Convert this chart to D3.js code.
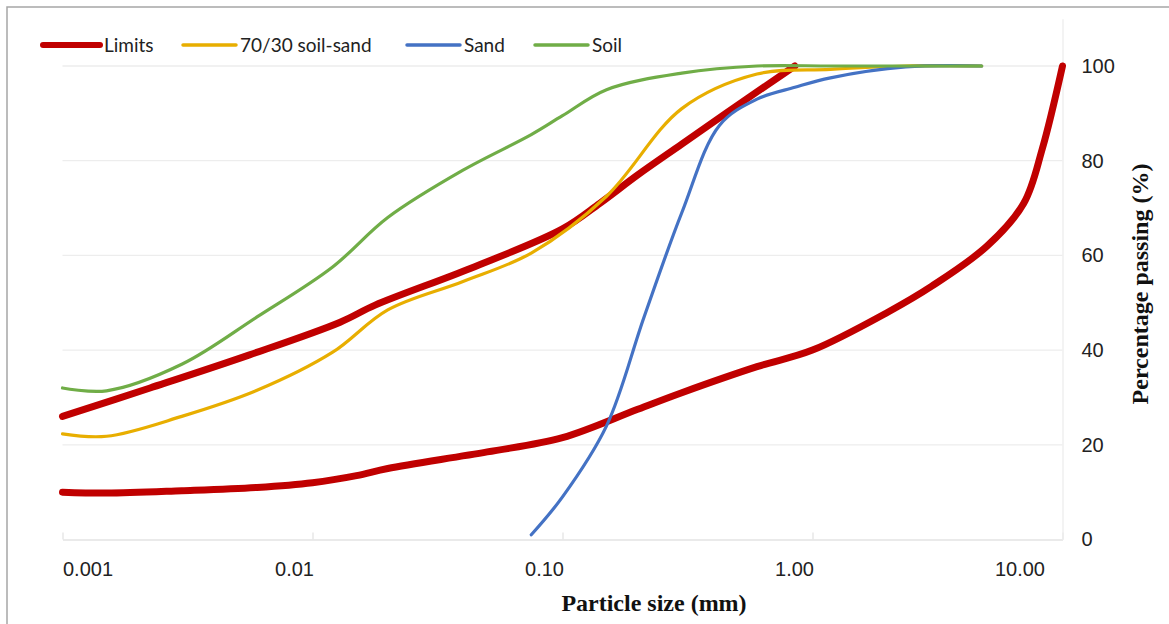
<!DOCTYPE html>
<html><head><meta charset="utf-8">
<script src="https://cdn.jsdelivr.net/npm/d3@7"></script>
<style>body{margin:0;background:#fff}svg{display:block}</style>
</head><body>
<svg id="chart" width="1169" height="624"></svg>
<script>
// ---------- data ----------
const seriesNames = ["Limits", "70/30 soil-sand", "Sand", "Soil"];
const seriesColors = ["#C00000", "#E8AE00", "#4472C4", "#70AD47"];

const limitsUpperSize = [0.001, 0.00224, 0.0056, 0.0129, 0.0178, 0.043, 0.1, 0.141, 0.2, 0.3, 0.45, 0.85];
const limitsUpperPass = [26, 32, 39, 45.9, 49.5, 57.3, 65.6, 71, 77, 83.5, 90, 100];

const limitsLowerSize = [0.001, 0.0015, 0.003, 0.006, 0.01, 0.015, 0.02, 0.05, 0.1, 0.2, 0.3, 0.6, 1, 2, 3, 5, 7, 8.3, 10];
const limitsLowerPass = [10, 9.8, 10.3, 11, 12, 13.5, 15, 18.5, 21.5, 27.5, 31, 36.5, 40, 48, 53.5, 62, 71, 82.5, 100];

const mixSize = [0.001, 0.0015, 0.003, 0.006, 0.012, 0.02, 0.04, 0.075, 0.15, 0.3, 0.6, 1.18, 2.36, 4.75];
const mixPass = [22.3, 21.8, 26, 31.5, 39.5, 48.5, 54.5, 60.5, 72.5, 91, 98.3, 99.3, 100, 100];

const sandSize = [0.075, 0.1, 0.15, 0.212, 0.3, 0.425, 0.6, 0.85, 1.18, 2.36, 4.75];
const sandPass = [1, 9, 24, 47, 69, 87.5, 93, 95.5, 97.5, 99.8, 100];

const soilSize = [0.001, 0.0015, 0.003, 0.006, 0.012, 0.02, 0.04, 0.075, 0.1, 0.15, 0.3, 0.6, 1.18, 2.36, 4.75];
const soilPass = [32, 31.4, 37, 47, 57.5, 68, 78, 85.5, 89.5, 95, 98.5, 100, 100, 100, 100];

const xTickValues = [0.001, 0.01, 0.1, 1, 10];
const xTickLabels = ["0.001", "0.01", "0.10", "1.00", "10.00"];
const yTickValues = [0, 20, 40, 60, 80, 100];

const xTitle = "Particle size (mm)";
const yTitle = "Percentage passing (%)";

// ---------- chart ----------
const svg = d3.select("#chart");
const x = d3.scaleLog().domain([0.001, 10]).range([62.5, 1062.5]);
const y = d3.scaleLinear().domain([0, 110]).range([539.5, 539.5 - 4.735 * 110]);

// outer border
svg.append("rect").attr("x", 7).attr("y", 7).attr("width", 1300).attr("height", 800)
  .attr("fill", "none").attr("stroke", "#A6A6A6").attr("stroke-width", 1.5);

// horizontal gridlines
svg.append("g").selectAll("line").data(yTickValues.filter(v => v > 0)).join("line")
  .attr("x1", x.range()[0]).attr("x2", x.range()[1])
  .attr("y1", d => y(d)).attr("y2", d => y(d))
  .attr("stroke", "#EDEDED").attr("stroke-width", 1.3);

// x axis
const xAxis = d3.axisBottom(x).tickValues(xTickValues)
  .tickFormat((d, i) => xTickLabels[i]).tickSizeInner(-7).tickSizeOuter(0).tickPadding(22);
const gx = svg.append("g").attr("transform", `translate(0,${y(0)})`).call(xAxis);
gx.select(".domain").attr("stroke", "#E3E3E3").attr("stroke-width", 1.5);
gx.selectAll(".tick line").attr("stroke", "#E3E3E3").attr("stroke-width", 1.3);
gx.selectAll(".tick text")
  .attr("font-family", "'Liberation Sans', Arial, sans-serif").attr("font-size", 20).attr("fill", "#222")
  .attr("text-anchor", (d, i) => i === 0 ? "start" : "end")
  .attr("dx", (d, i) => i === xTickValues.length - 1 ? -18 : (i === 0 ? 0 : 1));

// y axis on the right
const yAxis = d3.axisRight(y).tickValues(yTickValues).tickSize(0).tickPadding(19);
const gy = svg.append("g").attr("transform", `translate(${x.range()[1]},0)`).call(yAxis);
gy.select(".domain").attr("stroke", "#EDEDED").attr("stroke-width", 1.3);
gy.selectAll(".tick text")
  .attr("font-family", "'Liberation Sans', Arial, sans-serif").attr("font-size", 20).attr("fill", "#222");

// axis titles
svg.append("text").attr("x", 654).attr("y", 611).attr("text-anchor", "middle")
  .attr("font-family", "'Liberation Serif', 'Times New Roman', serif").attr("font-weight", "bold")
  .attr("font-size", 24).attr("fill", "#111").text(xTitle);
svg.append("text").attr("transform", "translate(1148,284) rotate(-90)").attr("text-anchor", "middle")
  .attr("font-family", "'Liberation Serif', 'Times New Roman', serif").attr("font-weight", "bold")
  .attr("font-size", 24).attr("fill", "#111").text(yTitle);

// series
const line = d3.line().x(d => x(d[0])).y(d => y(d[1])).curve(d3.curveCatmullRom.alpha(0.5));
const zip = (a, b) => a.map((v, i) => [v, b[i]]);
const seriesData = [
  { data: zip(limitsUpperSize, limitsUpperPass), c: 0, w: 7 },
  { data: zip(limitsLowerSize, limitsLowerPass), c: 0, w: 7 },
  { data: zip(mixSize, mixPass), c: 1, w: 3.2 },
  { data: zip(sandSize, sandPass), c: 2, w: 3.2 },
  { data: zip(soilSize, soilPass), c: 3, w: 3.2 }
];
svg.append("g").selectAll("path").data(seriesData).join("path")
  .attr("d", d => line(d.data)).attr("fill", "none")
  .attr("stroke", d => seriesColors[d.c]).attr("stroke-width", d => d.w)
  .attr("stroke-linejoin", "round").attr("stroke-linecap", "round");

// legend
const legendX = [43, 183, 407, 535];
const legendW = [57, 53, 53, 53];
const lg = svg.append("g");
seriesNames.forEach((name, i) => {
  lg.append("line").attr("x1", legendX[i]).attr("x2", legendX[i] + legendW[i])
    .attr("y1", 45).attr("y2", 45).attr("stroke", seriesColors[i])
    .attr("stroke-width", i === 0 ? 6 : 3.5).attr("stroke-linecap", "round");
  lg.append("text").attr("x", legendX[i] + legendW[i] + 4).attr("y", 51.5)
    .attr("font-family", "Lato, 'Open Sans', sans-serif").attr("font-size", 19).attr("fill", "#222")
    .text(name);
});
</script>
</body></html>
